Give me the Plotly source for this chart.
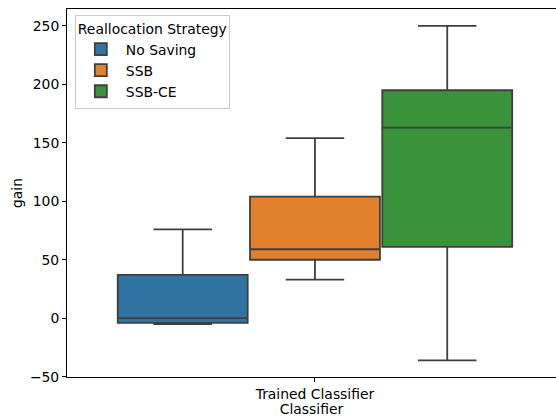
import plotly.graph_objects as go

strategies = ["No Saving", "SSB", "SSB-CE"]
colors = ["#3274a1", "#e1812c", "#3a923a"]
offsets = [-0.2667, 0.0, 0.2667]
lowerfence = [-5, 33, -36]
q1 = [-4, 50, 61]
median = [0, 59, 163]
q3 = [37, 104, 195]
upperfence = [76, 154, 250]
category = "Trained Classifier"

fig = go.Figure()
for i, name in enumerate(strategies):
    fig.add_trace(go.Box(
        name=name,
        x=[offsets[i]],
        q1=[q1[i]], median=[median[i]], q3=[q3[i]],
        lowerfence=[lowerfence[i]], upperfence=[upperfence[i]],
        width=0.262,
        whiskerwidth=0.45,
        fillcolor=colors[i],
        line=dict(color="#3f3f3f", width=1.8),
        boxpoints=False,
    ))

font = dict(family="DejaVu Sans", size=13.9, color="black", weight="normal")
fig.update_layout(
    width=556, height=417,
    margin=dict(l=67, r=0, t=9, b=40),
    paper_bgcolor="white", plot_bgcolor="white",
    font=font,
    showlegend=True,
    legend=dict(
        title=dict(text="Reallocation Strategy", font=font),
        x=0.016, y=0.985, xanchor="left", yanchor="top",
        bordercolor="#cccccc", borderwidth=1, bgcolor="white",
        font=font, tracegroupgap=0, itemwidth=40,
    ),
    xaxis=dict(
        range=[-0.5, 0.486],
        tickvals=[0], ticktext=[category],
        showline=True, linecolor="black", linewidth=1, mirror=True,
        ticks="outside", ticklen=4, tickcolor="black",
        showgrid=False, zeroline=False, automargin=False,
        tickfont=font,
        title=dict(text="Classifier", standoff=0, font=font),
    ),
    yaxis=dict(
        range=[-50.3, 264.5],
        tickvals=[-50, 0, 50, 100, 150, 200, 250],
        showline=True, linecolor="black", linewidth=1,
        ticks="outside", ticklen=4, tickcolor="black",
        showgrid=False, zeroline=False, automargin=False,
        tickfont=font,
        title=dict(text="gain", standoff=4, font=font),
    ),
)
fig.write_html(
    "out.html",
    config={"displayModeBar": False},
    post_script="document.body.style.margin='0px';document.body.style.overflow='hidden';",
)
